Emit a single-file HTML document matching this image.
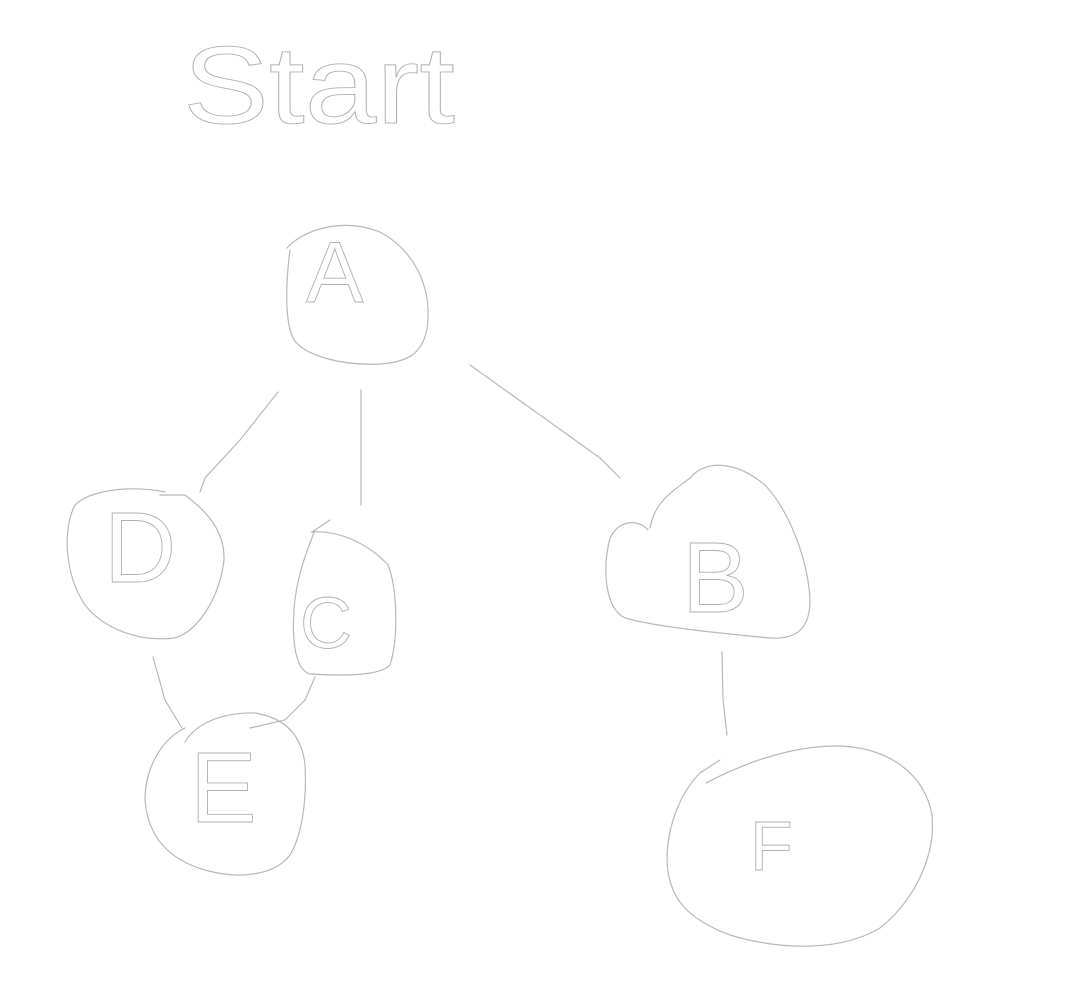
<!DOCTYPE html>
<html><head><style>html,body{margin:0;padding:0;background:#fff;width:1086px;height:990px;overflow:hidden}</style></head>
<body>
<svg width="1086" height="990" viewBox="0 0 1086 990" xmlns="http://www.w3.org/2000/svg">
<g fill="none" stroke="#b8b8b8" stroke-width="1.2" stroke-linecap="round">
<!-- A -->
<path d="M287,248 C305,228 345,218 380,232 C410,248 430,280 428,320 C426,350 412,362 380,364 C340,366 305,355 294,340 C284,322 286,280 290,250"/>
<!-- lines -->
<path d="M278,392 L240,440 L205,478 L200,492"/>
<path d="M361,390 L361,505"/>
<path d="M470,365 L540,415 L600,458 L620,478"/>
<!-- D -->
<path d="M165,492 C130,485 90,490 75,505 C62,530 65,575 85,605 C105,630 140,642 175,638 C200,630 220,595 224,560 C225,530 205,510 185,495 L160,495"/>
<!-- C -->
<path d="M330,520 L312,532 C340,530 370,545 388,565 C398,590 398,640 390,665 C380,676 345,676 310,674 C295,670 292,640 294,610 C296,580 305,555 315,530"/>
<!-- D-E, C-E -->
<path d="M153,657 L165,700 L182,728"/>
<path d="M315,677 L305,700 L285,720 L250,728"/>
<!-- E -->
<path d="M185,742 C195,725 220,712 255,713 C285,718 302,735 305,765 C307,800 302,835 290,855 C275,875 240,880 205,870 C170,860 148,838 145,800 C145,770 160,740 185,728"/>
<!-- B -->
<path d="M650,528 C655,500 675,490 690,478 C705,460 735,460 765,485 C790,512 808,560 810,600 C810,625 800,640 770,638 C730,634 660,628 625,618 C605,608 602,570 610,538 C620,518 640,520 648,530"/>
<!-- B-F -->
<path d="M722,652 L723,700 L727,735"/>
<!-- F -->
<path d="M706,783 C740,765 790,745 840,746 C890,748 925,775 932,815 C936,855 915,900 880,928 C840,952 780,950 730,935 C690,920 668,900 667,860 C667,830 678,795 700,773 L720,760"/>
</g>
<g fill="none" stroke="#b0b0b0" stroke-width="0.9" font-family="Liberation Sans, sans-serif">
<text x="183" y="123" font-size="110" textLength="272" lengthAdjust="spacingAndGlyphs">Start</text>
<text x="306" y="302" font-size="86">A</text>
<text x="104" y="582" font-size="100">D</text>
<text x="300" y="648" font-size="72">C</text>
<text x="190" y="822" font-size="100">E</text>
<text x="682" y="612" font-size="100">B</text>
<text x="750" y="870" font-size="70">F</text>
</g>
</svg>
</body></html>
